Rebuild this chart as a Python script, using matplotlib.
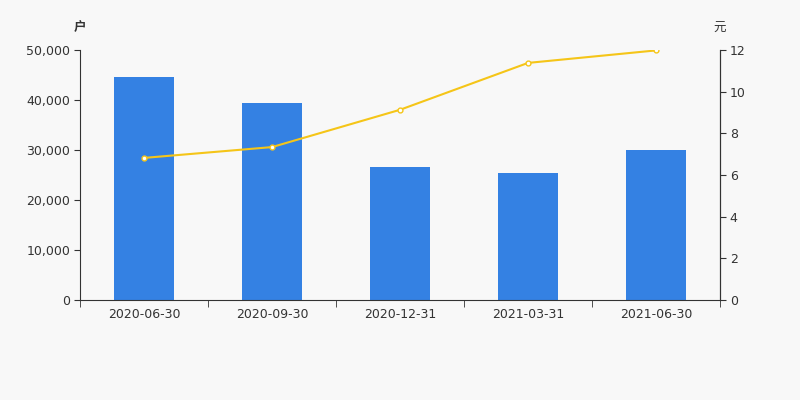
import numpy as np
import matplotlib.pyplot as plt
from matplotlib.ticker import FuncFormatter

plt.rcParams['font.family'] = ['DejaVu Sans', 'Noto Sans CJK SC']

dates = ['2020-06-30', '2020-09-30', '2020-12-31', '2021-03-31', '2021-06-30']
holders = [44600, 39400, 26700, 25400, 30100]
avg_value = [6.82, 7.34, 9.13, 11.38, 11.98]

bg = '#f8f8f8'
fig = plt.figure(figsize=(8, 4), dpi=100, facecolor=bg)
ax = fig.add_axes([0.1, 0.25, 0.8, 0.625], facecolor=bg)
x = np.arange(len(dates))

ax.bar(x, holders, width=0.47, color='#3481e3', zorder=2)
ax.set_xlim(-0.5, len(dates) - 0.5)
ax.set_ylim(0, 50000)
ax.set_yticks(np.arange(0, 50001, 10000))
ax.yaxis.set_major_formatter(FuncFormatter(lambda v, p: f'{int(v):,}'))
ax.set_xticks(x)
ax.set_xticklabels(dates)
ax.set_xticks(np.arange(-0.5, len(dates), 1), minor=True)
ax.tick_params(axis='x', which='major', length=0, pad=6)
ax.tick_params(axis='x', which='minor', length=5, color='#333333')
ax.tick_params(axis='y', length=4, pad=3, color='#333333')
ax.tick_params(labelsize=9, labelcolor='#333333')
ax.spines['top'].set_visible(False)
for s in ['left', 'bottom', 'right']:
    ax.spines[s].set_color('#333333')

ax2 = ax.twinx()
ax2.plot(x, avg_value, color='#f5c518', lw=1.5, marker='o', ms=3.5,
         mfc='white', mec='#f5c518', mew=1, zorder=3)
ax2.set_ylim(0, 12)
ax2.set_yticks(np.arange(0, 13, 2))
ax2.tick_params(axis='y', length=4, pad=3, color='#333333', labelsize=9, labelcolor='#333333')
ax2.spines['top'].set_visible(False)
ax2.spines['right'].set_color('#333333')
ax2.spines['left'].set_visible(False)
ax2.spines['bottom'].set_visible(False)

fig.text(0.1, 0.93, '户', family=['Noto Sans CJK SC'], fontsize=9, color='#333333',
         ha='center', va='center', fontweight='bold')
fig.text(0.9, 0.93, '元', family=['Noto Sans CJK SC'], fontsize=9, color='#333333',
         ha='center', va='center')

fig.savefig('out.png', dpi=100, facecolor=bg)
